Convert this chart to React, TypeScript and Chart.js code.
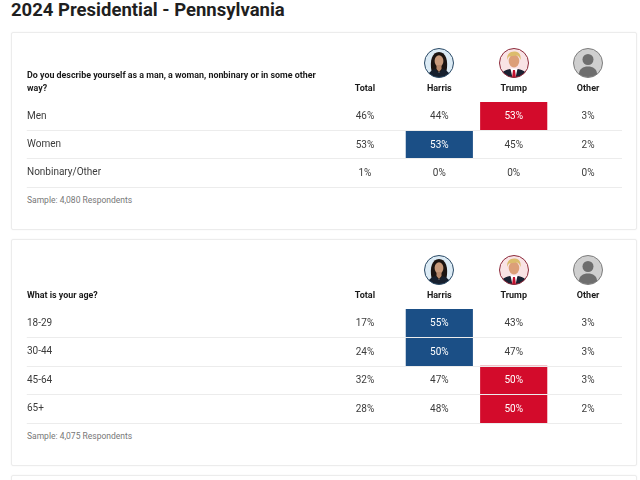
import { useEffect, useRef } from "react";
import { Chart, registerables, type Plugin } from "chart.js";

Chart.register(...registerables);

const columns = ["Total", "Harris", "Trump", "Other"];

const genderRows = ["Men", "Women", "Nonbinary/Other"];
const genderTotal = [46, 53, 1];
const genderHarris = [44, 53, 0];
const genderTrump = [53, 45, 0];
const genderOther = [3, 2, 0];

const ageRows = ["18-29", "30-44", "45-64", "65+"];
const ageTotal = [17, 24, 32, 28];
const ageHarris = [55, 50, 47, 48];
const ageTrump = [43, 47, 50, 50];
const ageOther = [3, 3, 3, 2];

const BLUE = "#1b4f86";
const RED = "#d30b2b";
const CELL_HALF = 0.447;

type PollTableProps = {
  top: number;
  height: number;
  question: string[];
  sample: string;
  rows: string[];
  total: number[];
  harris: number[];
  trump: number[];
  other: number[];
};

const cellLabels: Plugin<"bar"> = {
  id: "cellLabels",
  afterDatasetsDraw(chart, _args, opts: any) {
    const { ctx, scales } = chart;
    ctx.save();
    ctx.font = "10px Roboto";
    ctx.textAlign = "center";
    ctx.textBaseline = "middle";
    opts.values.forEach((col: number[], c: number) => {
      col.forEach((value, r) => {
        const lit =
          (c === 1 && opts.values[1][r] > opts.values[2][r]) ||
          (c === 2 && opts.values[2][r] > opts.values[1][r]);
        ctx.fillStyle = lit ? "#ffffff" : "#3c3c3c";
        ctx.fillText(`${value}%`, scales.x.getPixelForValue(c), scales.y.getPixelForValue(r) + 0.5);
      });
    });
    ctx.restore();
  },
};

function PollChart({ rows, total, harris, trump, other }: PollTableProps) {
  const canvasRef = useRef<HTMLCanvasElement>(null);

  useEffect(() => {
    if (!canvasRef.current) return;

    const chart = new Chart(canvasRef.current, {
      type: "bar",
      data: {
        labels: rows,
        datasets: [
          {
            label: "Harris",
            data: rows.map((_, i) =>
              harris[i] > trump[i] ? [1 - CELL_HALF, 1 + CELL_HALF] : null,
            ) as any,
            backgroundColor: BLUE,
          },
          {
            label: "Trump",
            data: rows.map((_, i) =>
              trump[i] > harris[i] ? [2 - CELL_HALF, 2 + CELL_HALF] : null,
            ) as any,
            backgroundColor: RED,
          },
        ],
      },
      options: {
        indexAxis: "y",
        animation: false,
        responsive: true,
        maintainAspectRatio: false,
        layout: { padding: { left: 27, right: 18, top: 40, bottom: 2 } },
        datasets: { bar: { barPercentage: 1, categoryPercentage: 1, grouped: false } },
        scales: {
          x: {
            position: "top",
            min: -0.5,
            max: 3.456,
            afterBuildTicks: (scale) => {
              scale.ticks = columns.map((_, i) => ({ value: i }));
            },
            afterFit: (scale) => {
              scale.height = 30;
            },
            grid: { display: false, drawTicks: false },
            border: { display: false },
            ticks: {
              padding: 8,
              maxRotation: 0,
              autoSkip: false,
              color: "#1a1a1a",
              font: { family: "Roboto", size: 9, weight: "bold" },
              callback: (value) => columns[Number(value)],
            },
          },
          y: {
            afterFit: (scale) => {
              // the row labels sit inside the rows, no room needed above or below
              scale.width = 300.75;
              scale.paddingTop = 0;
              scale.paddingBottom = 0;
            },
            border: { display: false },
            grid: {
              offset: true,
              z: 1,
              tickLength: 301,
              color: (ctx) => (ctx.index === 0 ? "transparent" : "#ececec"),
              tickColor: (ctx) => (ctx.index === 0 ? "transparent" : "#ececec"),
            },
            ticks: {
              crossAlign: "far",
              padding: 0,
              color: "#3c3c3c",
              font: { family: "Roboto", size: 10 },
            },
          },
        },
        plugins: {
          legend: { display: false },
          tooltip: { enabled: false },
          cellLabels: { values: [total, harris, trump, other] },
        } as any,
      },
      plugins: [cellLabels],
    });

    return () => chart.destroy();
  }, [rows, total, harris, trump, other]);

  return <canvas ref={canvasRef} />;
}

function HarrisFace() {
  return (
    <svg viewBox="0 0 30 30" width="30" height="30">
      <clipPath id="harris-clip">
        <circle cx="15" cy="15" r="14.5" />
      </clipPath>
      <g clipPath="url(#harris-clip)">
        <rect width="30" height="30" fill="#dcebf5" />
        <path d="M7.500 23C5.500 13 8 4 15 4s9.500 9 7.500 19c-2 2-13 2-15 0z" fill="#1c1411" />
        <ellipse cx="15" cy="13" rx="4.400" ry="5.800" fill="#c89a7b" />
        <path d="M12.500 17h5v4l-2.500 3-2.500-3z" fill="#b98a6c" />
        <path d="M3 30c.5-5 4-7.500 8.500-9l3.500 4 3.500-4c4.500 1.500 8 4 8.500 9z" fill="#17202e" />
      </g>
      <circle cx="15" cy="15" r="14.5" fill="none" stroke="#2b4a66" />
    </svg>
  );
}

function TrumpFace() {
  return (
    <svg viewBox="0 0 30 30" width="30" height="30">
      <clipPath id="trump-clip">
        <circle cx="15" cy="15" r="14.5" />
      </clipPath>
      <g clipPath="url(#trump-clip)">
        <rect width="30" height="30" fill="#f9e3e5" />
        <ellipse cx="15" cy="13" rx="5.300" ry="6.500" fill="#dc9f78" />
        <path d="M8.500 12c-1.500-6 3-9 7.500-8.500 4 .5 6.500 3.500 5.500 8.500-1-3-2-4-3.500-4.500-3 .5-6.500.5-8 1-.8 1-1.200 2-1.500 3.500z" fill="#dcbc6c" />
        <path d="M0 30c0-5 5-7.500 11-9l4 2 4-2c6 1.500 11 4 11 9z" fill="#1b2232" />
        <path d="M11.500 20.500h7l-2 9.500h-3z" fill="#ffffff" />
        <path d="M14 22h2l1 8h-4z" fill="#c4122f" />
      </g>
      <circle cx="15" cy="15" r="14.5" fill="none" stroke="#8c2a3b" />
    </svg>
  );
}

function OtherFace() {
  return (
    <svg viewBox="0 0 30 30" width="30" height="30">
      <circle cx="15" cy="15" r="14.5" fill="#cfcfcf" stroke="#7d7d7d" />
      <circle cx="15" cy="11.500" r="5.500" fill="#6e6e6e" />
      <path d="M6 26c0-5 4-7.500 9-7.500s9 2.500 9 7.500c-2.500 2-5.500 3-9 3s-6.500-1-9-3z" fill="#6e6e6e" />
    </svg>
  );
}

const avatars = [
  { left: 424, Face: HarrisFace },
  { left: 498.500, Face: TrumpFace },
  { left: 573, Face: OtherFace },
];

const cardStyle = {
  position: "absolute",
  left: 11,
  width: 626,
  boxSizing: "border-box",
  background: "#ffffff",
  border: "1px solid #ececec",
  borderRadius: 2,
  boxShadow: "0 0 2px rgba(0,0,0,0.05)",
} as const;

function PollTable(props: PollTableProps) {
  const { top, height, question, sample } = props;
  const lastLine = Math.round(70 + props.rows.length * 28.4);

  return (
    <>
      <div style={{ ...cardStyle, top, height }} />
      <div style={{ position: "absolute", left: 0, top, width: 640, height: lastLine + 2 }}>
        <PollChart {...props} />
      </div>
      {avatars.map(({ left, Face }) => (
        <div key={left} style={{ position: "absolute", left, top: top + 16, width: 30, height: 30 }}>
          <Face />
        </div>
      ))}
      <div
        style={{
          position: "absolute",
          left: 27,
          width: 300,
          top: top + 49.5 - (question.length - 1) * 13,
          font: "bold 8.900px/13px Roboto",
          color: "#1a1a1a",
        }}
      >
        {question.map((line) => (
          <div key={line}>{line}</div>
        ))}
      </div>
      <div
        style={{
          position: "absolute",
          left: 27,
          top: top + lastLine + 7,
          font: "8.500px/12px Roboto",
          color: "#777777",
        }}
      >
        {sample}
      </div>
    </>
  );
}

export default function App() {
  return (
    <div
      style={{
        position: "absolute",
        left: 0,
        top: 0,
        width: 640,
        height: 480,
        overflow: "hidden",
        background: "#ffffff",
      }}
    >
      <div
        style={{
          position: "absolute",
          left: 11,
          top: -2,
          font: "bold 18.500px/24px Roboto",
          color: "#1f1f1f",
          whiteSpace: "nowrap",
        }}
      >
        2024 Presidential - Pennsylvania
      </div>
      <PollTable
        top={32}
        height={198}
        question={["Do you describe yourself as a man, a woman, nonbinary or in some other", "way?"]}
        sample="Sample: 4,080 Respondents"
        rows={genderRows}
        total={genderTotal}
        harris={genderHarris}
        trump={genderTrump}
        other={genderOther}
      />
      <PollTable
        top={239}
        height={227}
        question={["What is your age?"]}
        sample="Sample: 4,075 Respondents"
        rows={ageRows}
        total={ageTotal}
        harris={ageHarris}
        trump={ageTrump}
        other={ageOther}
      />
      <div style={{ ...cardStyle, top: 475, height: 40 }} />
    </div>
  );
}
